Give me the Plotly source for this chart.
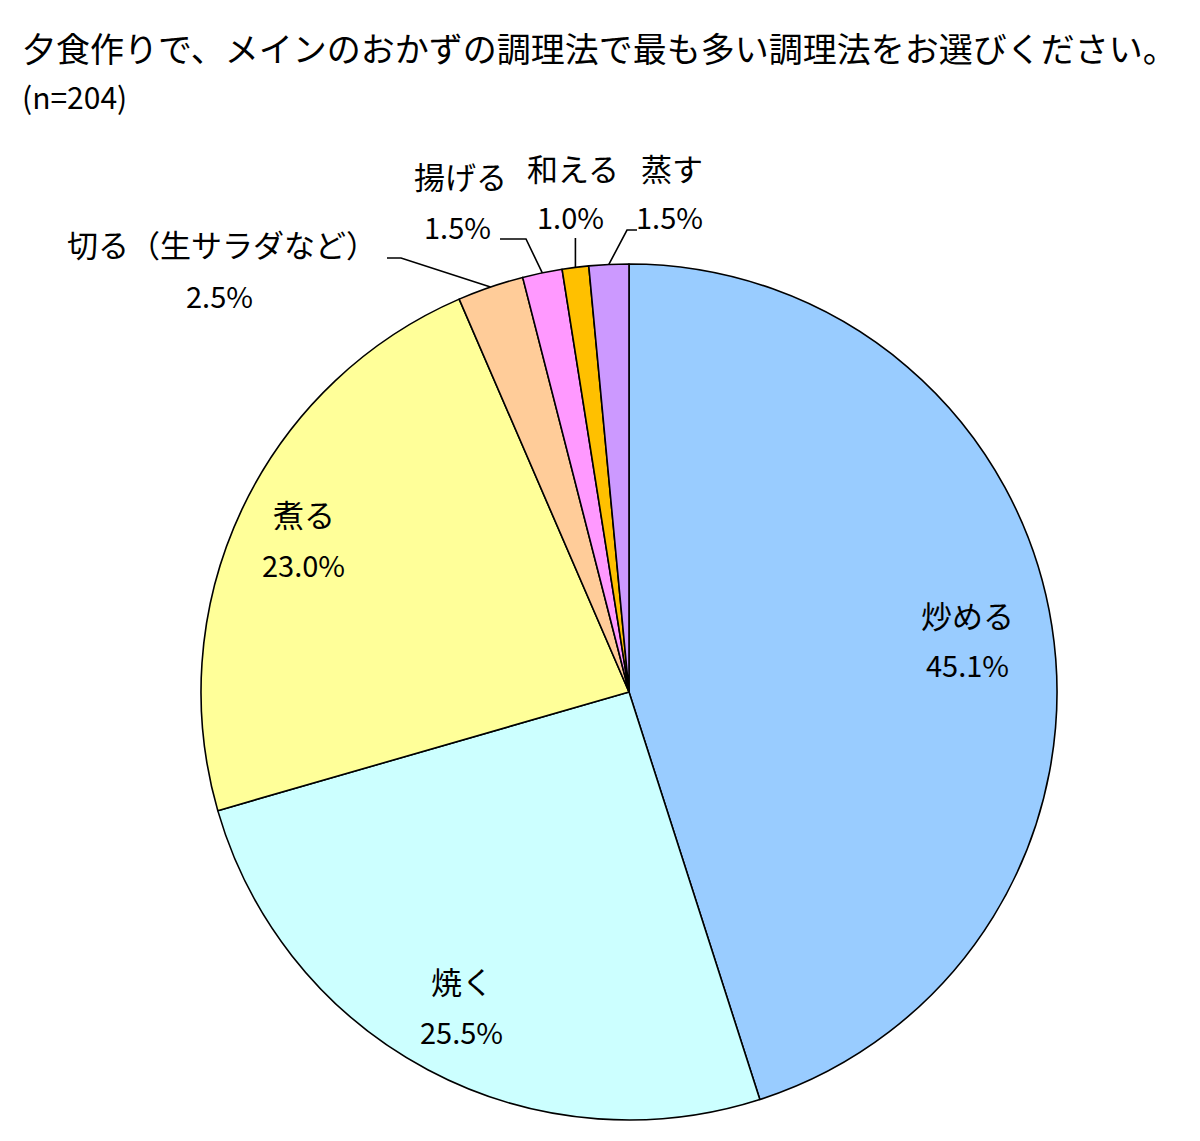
import math
import plotly.graph_objects as go

# ---- data ----
title_text = "夕食作りで、メインのおかずの調理法で最も多い調理法をお選びください。"
subtitle_text = "(n=204)"
categories = ["炒める", "焼く", "煮る", "切る（生サラダなど）", "揚げる", "和える", "蒸す"]
values = [45.1, 25.5, 23.0, 2.5, 1.5, 1.0, 1.5]
colors = ["#99CCFF", "#CCFFFF", "#FFFF99", "#FFCC99", "#FF99FF", "#FFC000", "#CC99FF"]

# ---- layout constants (pixels in a 1200x1141 page) ----
W, H = 1200, 1141
CX, CY, R = 629, 692, 428
FONT = "Noto Sans CJK JP, Noto Sans, sans-serif"
NAME_SIZE = 31
VALUE_SIZE = 29
LINE_GAP = 50

def px(x):
    return x / W

def py(y):
    return 1 - y / H

fig = go.Figure(go.Pie(
    labels=categories,
    values=values,
    sort=False,
    direction="clockwise",
    rotation=0,
    marker=dict(colors=colors, line=dict(color="#000000", width=1.6)),
    textinfo="none",
    hoverinfo="label+percent",
    showlegend=False,
    domain=dict(x=[px(CX - R), px(CX + R)], y=[py(CY + R), py(CY - R)]),
))

total = sum(values)
mids = []
cum = 0.0
for v in values:
    mids.append((cum + v / 2) / total * 2 * math.pi)
    cum += v

def point(angle, frac):
    return CX + R * frac * math.sin(angle), CY - R * frac * math.cos(angle)

annotations = []
shapes = []

def text_at(x, y, text, size, anchor="center"):
    annotations.append(dict(
        x=px(x), y=py(y), xref="paper", yref="paper", text=text,
        showarrow=False, xanchor=anchor, yanchor="middle",
        font=dict(family=FONT, size=size, color="#000000"),
    ))

# inside labels (first three slices)
inside_frac = [0.80, 0.83, 0.84]
for i in range(3):
    x, y = point(mids[i], inside_frac[i])
    text_at(x, y - LINE_GAP / 2, categories[i], NAME_SIZE)
    text_at(x, y + LINE_GAP / 2, f"{values[i]:.1f}%", VALUE_SIZE)

# outside labels: (label centre x, name y, value y, leader start path)
outside = {
    3: dict(x=222, y1=243, y2=295, lead=[(387, 258), (401, 258)]),
    4: dict(x=460, y1=176, y2=226, lead=[(500, 239), (526, 239)]),
    5: dict(x=573, y1=167, y2=216, lead=None),
    6: dict(x=672, y1=167, y2=216, lead=[(637, 230), (627, 230)]),
}
for i, o in outside.items():
    text_at(o["x"], o["y1"], categories[i], NAME_SIZE)
    text_at(o["x"] - 3, o["y2"], f"{values[i]:.1f}%", VALUE_SIZE)
    ex, ey = point(mids[i], 1.0)
    pts = o["lead"] if o["lead"] else [(ex, 238)]
    pts = pts + [(ex, ey)]
    path = "M " + " L ".join(f"{px(a):.5f},{py(b):.5f}" for a, b in pts)
    shapes.append(dict(type="path", xref="paper", yref="paper", path=path,
                       line=dict(color="#000000", width=1.6)))

# title
text_at(20, 47, title_text, 34, anchor="left")
text_at(20, 96, subtitle_text, 30, anchor="left")

fig.update_layout(
    width=W, height=H,
    margin=dict(l=0, r=0, t=0, b=0),
    paper_bgcolor="#FFFFFF", plot_bgcolor="#FFFFFF",
    annotations=annotations, shapes=shapes,
)

fig.write_html("out.html", config={"displayModeBar": False})
